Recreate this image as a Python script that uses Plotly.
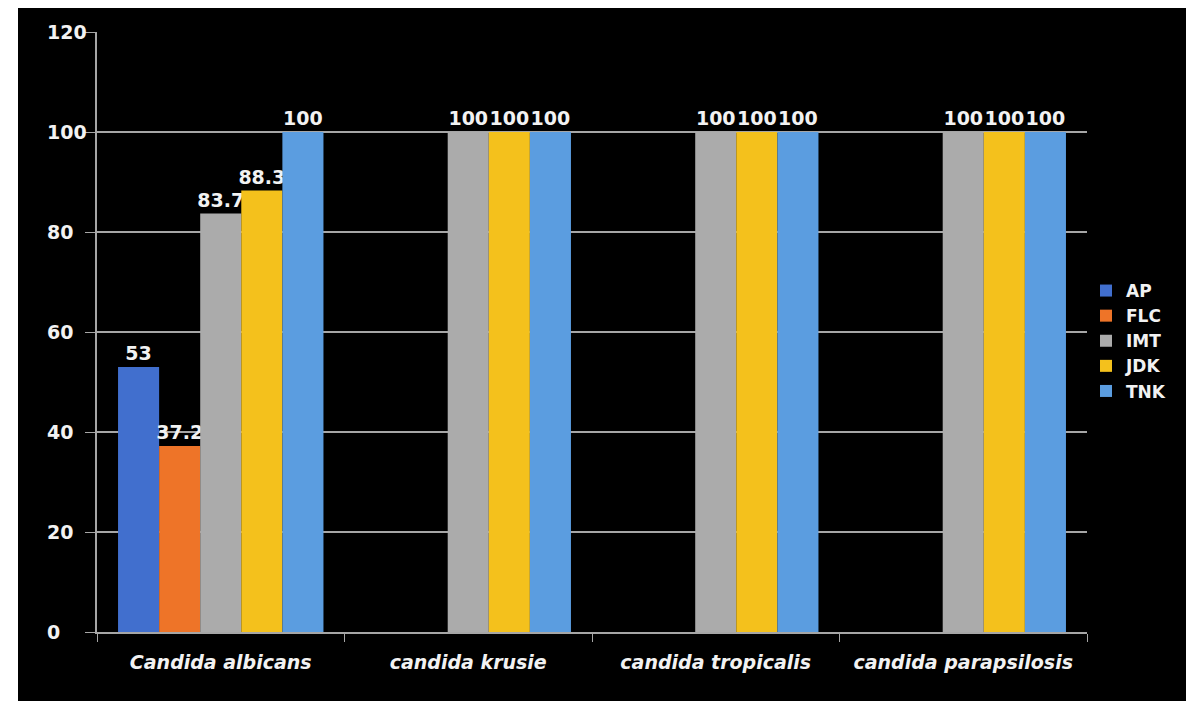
import plotly.graph_objects as go

categories = ["Candida albicans", "candida krusie", "candida tropicalis", "candida parapsilosis"]
series_names = ["AP", "FLC", "IMT", "JDK", "TNK"]
ap = [53, None, None, None]
flc = [37.2, None, None, None]
imt = [83.7, 100, 100, 100]
jdk = [88.3, 100, 100, 100]
tnk = [100, 100, 100, 100]
y_ticks = [0, 20, 40, 60, 80, 100, 120]

values = [ap, flc, imt, jdk, tnk]
colors = ["#416fce", "#ee7428", "#ababab", "#f4c11c", "#5b9de0"]

FONT = "DejaVu Sans"
fig = go.Figure()
for name, vals, col in zip(series_names, values, colors):
    fig.add_trace(go.Bar(
        name=name, x=categories, y=vals,
        marker=dict(color=col, line=dict(width=0)),
        text=[("" if v is None else f"{v:g}") for v in vals],
        textposition="outside", cliponaxis=False, constraintext="none",
        textfont=dict(family=FONT, size=19, color="#f2f2f2", weight="bold"),
    ))

# page body has an 8px margin; figure coordinates = reference - 8
L, T = 89, 24
W, H = 1186, 693
pw = 990
ph = 600
R = W - L - pw
B = H - T - ph

annotations = [dict(x=(45 - 8 - L) / pw, xref="paper", y=v, yref="y", text=str(v),
                    xanchor="left", yanchor="middle", showarrow=False,
                    font=dict(family=FONT, size=19, color="#f2f2f2", weight="bold"))
               for v in y_ticks]

fig.update_layout(
    width=W, height=H,
    margin=dict(l=L, r=R, t=T, b=B),
    paper_bgcolor="white", plot_bgcolor="rgba(0,0,0,0)",
    barmode="group", bargap=0.17, bargroupgap=0,
    showlegend=True,
    legend=dict(x=(1078 - L) / pw, xanchor="left", y=(624 - 333) / ph, yanchor="middle",
                font=dict(family=FONT, size=17, color="#f2f2f2", weight="bold"),
                bgcolor="rgba(0,0,0,0)", itemwidth=30, tracegroupgap=0),
    shapes=[dict(type="rect", xref="paper", yref="paper", layer="below",
                 x0=(10 - L) / pw, x1=(W + 20 - L) / pw,
                 y0=-(B + 20) / ph, y1=(ph + T + 5) / ph,
                 fillcolor="black", line=dict(width=0))],
    annotations=annotations,
)
fig.update_yaxes(range=[0, 120], tickvals=y_ticks, showticklabels=False,
                 showgrid=True, gridcolor="#a6a6a6", gridwidth=1.5,
                 showline=True, linecolor="#a6a6a6", linewidth=1.5, ticks="outside", ticklen=10,
                 tickcolor="#a6a6a6", zeroline=False)
fig.update_xaxes(showline=True, linecolor="#a6a6a6", linewidth=1.5, ticks="outside", ticklen=8,
                 tickcolor="#a6a6a6", tickson="boundaries", ticklabelstandoff=12,
                 tickfont=dict(family=FONT, size=19, color="#f2f2f2", style="italic", weight="bold"))

fig.write_html("out.html")
